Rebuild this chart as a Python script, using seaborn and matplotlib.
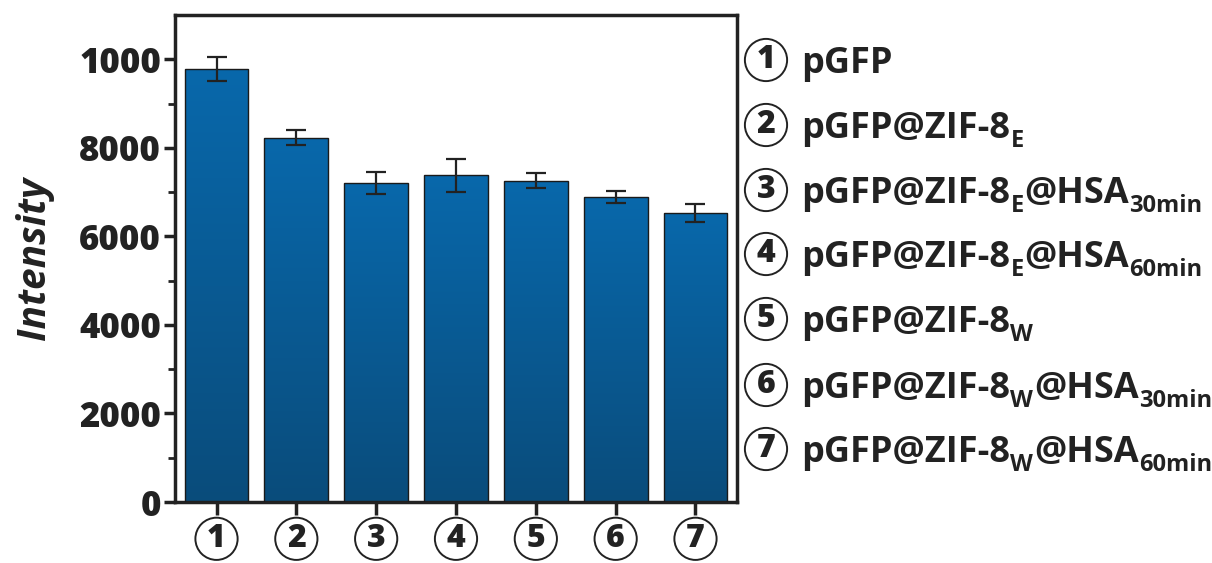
import re
import numpy as np
import pandas as pd
import matplotlib
matplotlib.use("Agg")
import matplotlib.pyplot as plt
import seaborn as sns
from matplotlib.colors import LinearSegmentedColormap

categories = ["1", "2", "3", "4", "5", "6", "7"]
values = [9780, 8230, 7210, 7380, 7260, 6885, 6520]
errors = [280, 165, 250, 370, 160, 140, 200]
ytick_values = [0, 2000, 4000, 6000, 8000, 10000]
ytick_labels = ["0", "2000", "4000", "6000", "8000", "1000"]
legend_labels = [
    "pGFP",
    "pGFP@ZIF-8_{E}",
    "pGFP@ZIF-8_{E}@HSA_{30min}",
    "pGFP@ZIF-8_{E}@HSA_{60min}",
    "pGFP@ZIF-8_{W}",
    "pGFP@ZIF-8_{W}@HSA_{30min}",
    "pGFP@ZIF-8_{W}@HSA_{60min}",
]

sns.set_theme(style="white")
plt.rcParams["font.family"] = ["Open Sans", "DejaVu Sans"]

W, H = 1212, 563
fig = plt.figure(figsize=(W / 100, H / 100), dpi=100)
ax = fig.add_axes([175 / W, 1 - 502 / H, (737 - 175) / W, (502 - 15) / H])

df = pd.DataFrame({"cat": categories, "val": values})
sns.barplot(data=df, x="cat", y="val", ax=ax, color="#0a62a0", width=0.8,
            edgecolor="#1a1a1a", linewidth=1.0, errorbar=None, zorder=2)

cmap = LinearSegmentedColormap.from_list("bar", ["#0a4c7b", "#0868ab"])
grad = np.linspace(0, 1, 256).reshape(-1, 1)
for p in ax.patches:
    x0, y0 = p.get_x(), p.get_y()
    w, h = p.get_width(), p.get_height()
    im = ax.imshow(grad, extent=[x0, x0 + w, y0, y0 + h], origin="lower",
                   cmap=cmap, aspect="auto", zorder=2.5)
    im.set_clip_path(p)
    p.set_facecolor("none")
    p.set_zorder(3)

ax.errorbar(np.arange(len(values)), values, yerr=errors, fmt="none",
            ecolor="#222222", elinewidth=1.6, capsize=7, capthick=1.6, zorder=4)

ax.set_xlim(-0.52, 6.52)
ax.set_ylim(0, 11000)
ax.set_yticks(ytick_values)
ax.set_yticklabels(ytick_labels, fontsize=25, fontweight="heavy", color="#222222")
ax.set_yticks(np.arange(1000, 11000, 2000), minor=True)
ax.set_xticks(np.arange(len(categories)))
ax.set_xticklabels([])
ax.tick_params(axis="y", which="major", direction="out", length=8, width=2.5,
               left=True, pad=2, colors="#222222")
ax.tick_params(axis="y", which="minor", direction="out", length=5, width=2,
               left=True, colors="#222222")
ax.tick_params(axis="x", which="major", direction="out", length=9, width=2.5,
               bottom=True, colors="#222222")
for s in ax.spines.values():
    s.set_linewidth(2.5)
    s.set_color("#222222")
ax.set_xlabel("")
ax.set_ylabel("Intensity", fontsize=28, style="italic", fontweight="bold",
              color="#222222", labelpad=18)

circ = dict(boxstyle="circle,pad=0.16", fc="white", ec="#222222", lw=1.4)
for i, c in enumerate(categories):
    ax.annotate(c, xy=(i, 0), xycoords=("data", "axes fraction"),
                xytext=(0, -26.5), textcoords="offset points",
                ha="center", va="center", fontsize=23, fontweight="heavy",
                color="#222222", bbox=circ, annotation_clip=False)

renderer = fig.canvas.get_renderer()
row_y = [60, 125, 190, 254, 319, 385, 449]
main_fs, sub_fs = 26, 17
for c, lab, yy in zip(categories, legend_labels, row_y):
    fig.text(766 / W, 1 - yy / H, c, ha="center", va="center", fontsize=23,
             fontweight="heavy", color="#222222", bbox=circ)
    base = yy + 13
    xpx = 801.0
    parts = re.split(r"(_\{[^}]*\})", lab)
    for part in parts:
        if not part:
            continue
        if part.startswith("_{"):
            txt, fs, b = part[2:-1], sub_fs, base + 9
        else:
            txt, fs, b = part, main_fs, base
        t = fig.text(xpx / W, 1 - b / H, txt, ha="left", va="baseline",
                     fontsize=fs, fontweight="bold", color="#222222")
        xpx += t.get_window_extent(renderer).width + 0.5

fig.savefig("out.png", dpi=100, facecolor="white")
